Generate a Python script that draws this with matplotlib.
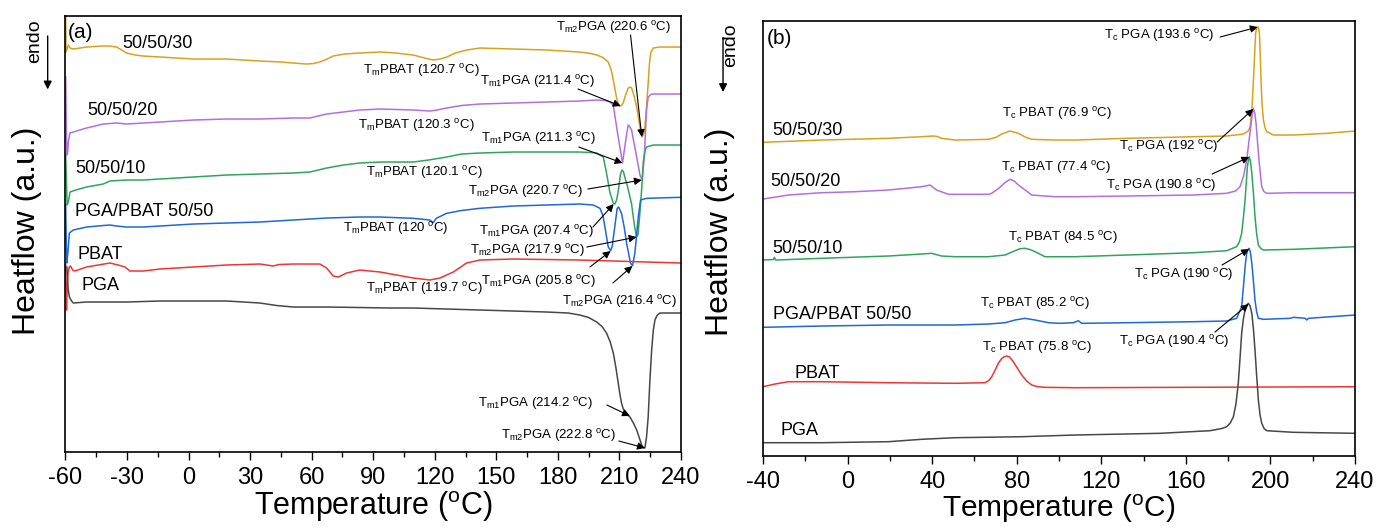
import matplotlib
matplotlib.use("Agg")
import matplotlib.pyplot as plt
from matplotlib.ticker import MultipleLocator

plt.rcParams['font.family'] = ['Liberation Sans', 'DejaVu Sans']
plt.rcParams['mathtext.fontset'] = 'custom'
plt.rcParams['mathtext.rm'] = 'Liberation Sans'
plt.rcParams['mathtext.default'] = 'regular'
plt.rcParams['axes.unicode_minus'] = False

# colours of the six samples
COLORS = {
    "50/50/30": "#D9A21B",
    "50/50/20": "#B070E0",
    "50/50/10": "#2FA55C",
    "PGA/PBAT 50/50": "#1C68DC",
    "PBAT": "#EE3535",
    "PGA": "#474747",
}

# ---- (a) heating scans: temperature (C) and heat flow (a.u., offset) ----
heat_T_30 = [-59.9, -59.7, -59.2, -58.6, -57.8, -56.2, -49.7, -42, -38.3, -35.1, -32.5, -30.2, -26, -22.1, -13.9,
             2.3, 18.5, 34.8, 45, 51, 57.5, 61, 64, 67.5, 70.5, 76, 83.5, 93.3, 101, 109.5, 115, 119.2, 122.5,
             125.8, 130, 135.5, 142, 158.2, 174.5, 190.7, 196, 199, 202, 204.5, 206, 207, 208.6, 209.5, 210.2,
             211, 211.8, 213, 214.3, 215.2, 215.9, 217, 218.4, 220, 221.1, 221.8, 222.4, 223.2, 224, 224.6,
             225.2, 226.5, 229.7, 240]
heat_hf_30 = [436, 400, 403, 407, 404, 403, 405, 406, 406, 405, 402, 399, 397, 396, 395,
              393, 393, 391, 390, 389, 388, 388.5, 390, 393, 396, 398, 399, 400, 399, 397, 394, 392, 393,
              395, 399, 402, 404, 403, 402, 400, 398.5, 397, 394.5, 390, 382, 372, 354, 348, 346,
              346.5, 349, 357, 364, 365, 364, 357, 345, 325, 315, 318, 325, 345, 369, 388,
              399, 404, 405, 405]

heat_T_20 = [-59.9, -59.6, -59.3, -58.9, -58.6, -57.8, -56.2, -49.7, -41.6, -35.1, -30.2, -22.1, -13.9, 2.3,
             18.5, 34.8, 51, 59.2, 63, 67.3, 75.4, 83.5, 93.3, 109.5, 117.6, 121, 125.8, 133, 142, 158.2,
             174.5, 190.7, 198.9, 203, 205.4, 207, 208.6, 210.2, 211.5, 212.6, 213.5, 214.3, 215.1, 215.9,
             217, 218.4, 220, 221.1, 222.1, 223.2, 224, 225.7, 240]
heat_hf_20 = [375, 330, 297, 300, 310, 319, 320, 324, 328, 329, 328, 329, 330, 332,
              333, 333, 334, 334, 336, 338, 340, 342, 343, 342, 341, 342, 344, 346.5, 348, 349,
              350, 351, 352, 351.5, 350, 347, 325, 305, 289, 305, 318, 327, 325, 322,
              310, 295, 277, 272, 295, 342, 355, 358, 358]

heat_T_10 = [-59.9, -59.5, -59.2, -58.6, -57.8, -55, -49.7, -41.6, -38.3, -30.2, -22.1, -13.9, 2.3, 18.5,
             34.8, 51, 59.2, 67.3, 75.4, 83.5, 93.3, 109.5, 117, 125.8, 133, 142, 158.2, 174.5, 190.7, 196,
             198.9, 200.5, 202.1, 203.7, 205.4, 207, 207.8, 208.6, 209.5, 210.5, 211.3, 212, 212.6, 214,
             215.9, 217.2, 218.3, 219, 219.8, 220.8, 221.6, 222.5, 223.2, 226.5, 240]
heat_hf_10 = [297, 270, 247, 250, 260, 262, 265, 268, 271, 272, 272, 273, 275, 277,
              278, 279, 280, 284, 287, 289, 290, 290, 292, 295, 298, 299, 300, 300, 300, 299.5,
              299, 297, 295, 279, 259, 249, 248, 252, 262, 278, 282, 280, 275, 265,
              248, 228, 215, 217, 235, 262, 290, 302, 305, 307, 307]

heat_T_blend = [-59.9, -59.6, -59.3, -58.8, -58.1, -56.2, -49.7, -41.6, -38.3, -35.1, -30.2, -22.1, -13.9,
                2.3, 18.5, 34.8, 51, 67.3, 83.5, 93.3, 109.5, 117.6, 119.2, 120.7, 125.8, 133, 142, 158.2,
                174.5, 190.7, 197.2, 200.5, 202, 202.9, 204.5, 205.7, 206.5, 207.3, 208.9, 209.6, 211,
                212.3, 213.5, 215.4, 216.4, 217.5, 218.5, 219.2, 220.3, 223.2, 240]
heat_hf_blend = [247, 210, 189, 200, 219, 222, 225, 226.5, 227, 226, 225, 225, 226,
                 228, 229, 230, 232, 234, 235, 235, 233.7, 232, 229.3, 233.7, 238.7, 241.5, 243.7, 246,
                 247, 248, 247, 243.7, 236, 225.3, 205.3, 201.3, 206, 218.7, 243.7, 245, 238.7,
                 225, 208.7, 188.7, 186.3, 198.7, 220, 235.3, 252, 253.7, 254.7]

heat_T_pbat = [-59.9, -59.7, -59.5, -59.2, -58.7, -58.1, -57.5, -56.5, -55.4, -49.7, -38.3, -34.3, -31, -28.6,
               -22.1, -13.9, 2.3, 18.5, 34.8, 41.3, 44, 51, 64, 67.3, 70.5, 73, 77, 83.5, 93.3, 101.4,
               109.5, 117.6, 122.5, 129, 135.5, 142, 158.2, 190.7, 207, 223.2, 240]
heat_hf_pbat = [188, 165, 142, 160, 180, 185, 186, 182, 181, 185, 189, 187, 185, 181,
                181, 183, 185, 187, 188, 186, 187.5, 188, 188, 184, 176, 175, 179, 182, 180, 177,
                174, 172, 174, 180, 189, 192, 193, 192, 191, 190, 189]

heat_T_pga = [-59.3, -58.8, -58.1, -57, -56.2, -49.7, -30.2, -13.9, 18.5, 26.7, 34.8, 42.9, 51, 67.3, 83.5,
              98, 109.5, 142, 174.5, 185, 190.7, 195, 198.9, 201.5, 203.7, 205.5, 207, 208.3, 209.4, 210.2,
              211, 211.8, 212.6, 213.8, 215.1, 216.8, 218.4, 219.7, 220.8, 221.6, 222.4, 223.2, 224, 224.8,
              225.7, 226.5, 227.3, 228.3, 229.7, 240]
heat_hf_pga = [185, 165, 155, 151, 149, 150, 150, 151, 151, 150, 149, 146.5, 145, 145, 144.5,
               144, 144, 142, 140, 139, 137, 134.5, 130, 125.5, 119, 110, 99, 84, 69, 58,
               49, 43.5, 40, 37.5, 35, 29, 22, 14, 7, 4.5, 4, 15, 35, 70,
               102, 122, 132, 136.5, 139, 139]

# ---- (b) cooling scans ----
cool_T_30 = [-40, -12.3, 19.3, 35, 40.6, 42.5, 44.5, 50.8, 66.6, 70, 72.9, 76.8, 80.8, 84, 87.1, 98.1, 107.6,
             132, 163.6, 179.3, 187.2, 189.5, 190.4, 191.2, 191.9, 192.5, 193, 193.5, 194, 194.4, 194.8,
             195.2, 195.6, 196.1, 196.7, 197.5, 198.3, 201.4, 210.9, 226.6, 240]
cool_hf_30 = [313.7, 316, 317.7, 319.3, 320, 319.5, 317.7, 316, 316.7, 318.5, 322, 325, 322.7, 319, 316.7, 316,
              316, 317.7, 319.3, 320, 322, 325, 329.3, 345, 372.7, 400, 422.7, 428, 429.3, 428, 422.7,
              400, 372.7, 350, 336, 328, 324.3, 321, 321, 322.7, 325]

cool_T_20 = [-40, -28, -12.3, 3.5, 19.3, 35, 39, 42.1, 47.7, 66.6, 68, 71.5, 74.5, 76.8, 78.8, 80.8, 84, 87.1,
             98.1, 107.6, 132, 163.6, 179.3, 183.5, 185.6, 187.3, 188.8, 189.8, 190.7, 191.3, 191.9, 192.6,
             193.2, 193.9, 194.6, 195.3, 195.9, 196.9, 198.3, 210.9, 240]
cool_hf_20 = [257, 261, 263.3, 264.3, 266, 269.3, 271, 266, 261.7, 261.7, 262.5, 267.7, 273.5, 276.7, 275,
              271, 266, 261, 259.3, 259.3, 260, 261, 262.7, 265, 269.3, 280, 296, 314, 329.3, 341, 347.7,
              343, 332.7, 314, 296, 281, 269.3, 264.5, 262.7, 263.3, 263.3]

cool_T_10 = [-40, -35.1, -34.6, -34, -12.3, 19.3, 35, 39.8, 44.5, 50.8, 66.6, 74.5, 79.2, 81.5, 83.9, 86.3,
             88.7, 93.4, 107.6, 132, 163.6, 179.3, 184, 185.3, 186.4, 187.2, 188, 188.6, 189.1, 189.6, 190,
             190.6, 191.2, 192, 192.7, 193.5, 194.3, 195.5, 196.7, 210.9, 240]
cool_hf_10 = [196, 196.5, 198.7, 196, 197.7, 200, 202, 202.7, 200, 199.3, 199.3, 201, 205.3, 207.3, 207.7,
              206.5, 204.3, 199.3, 199.3, 201, 203.3, 205.3, 209.3, 214, 222.7, 238, 256, 274, 289.3, 296,
              299.3, 294, 282.7, 262, 239.3, 222, 211, 207.5, 206, 206.7, 209.3]

cool_T_blend = [-40, -12.3, 19.3, 50.8, 66.6, 74.5, 79.2, 83.9, 88.7, 95, 100.5, 106.8, 109.2, 110.7, 132,
                163.6, 179.3, 184, 186.4, 187.5, 188.2, 188.8, 189.4, 189.9, 190.5, 191.2, 192, 192.7, 193.5,
                194.3, 196.7, 209.3, 210.9, 216.4, 217.2, 218, 240]
cool_hf_blend = [128.7, 130, 131, 131, 132, 133.3, 136, 137.7, 136, 133.3, 132.7, 133.3, 135.3, 132.7, 133.3,
                 134.3, 135, 137.7, 149.3, 176, 193, 202.7, 206.5, 207.7, 204, 192.7, 174, 156, 144,
                 137.7, 136.7, 137.7, 138.7, 137.7, 136, 137.7, 141]

cool_T_pbat = [-40, -34.3, -28, -12.3, 19.3, 50.8, 65, 66.8, 68.2, 69.8, 71.3, 72.8, 74, 75.3, 76.6, 78.4,
               80.4, 82.4, 84.7, 87.1, 90, 93.4, 107.6, 240]
cool_hf_pbat = [69.3, 72, 74.3, 74.3, 73.3, 72.7, 73.3, 75.5, 79.3, 86, 92.7, 97.3, 99.3, 100, 99, 94.3,
                87.5, 81, 75, 71, 69.3, 68.7, 68.3, 69.3]

cool_T_pga = [-40, -12.3, 19.3, 35, 50.8, 82.4, 107.6, 147.8, 171.4, 177, 179.3, 181, 182.5, 183.7, 184.8,
              185.6, 186.4, 187.2, 188, 188.8, 189.6, 190.4, 191.2, 192, 192.7, 193.5, 194.3, 195.1, 195.9,
              197, 198.3, 210.9, 240]
cool_hf_pga = [13.3, 13.3, 14.3, 16.7, 18.3, 19.3, 21, 22.7, 25.3, 27.5, 29.3, 33, 39.3, 52, 72.7,
               97, 122.7, 137, 146, 151, 152.7, 150, 142.7, 126, 106, 80, 56, 41, 32.7,
               27.5, 25.3, 23.7, 22.7]

heating = {
    "50/50/30": (heat_T_30, heat_hf_30),
    "50/50/20": (heat_T_20, heat_hf_20),
    "50/50/10": (heat_T_10, heat_hf_10),
    "PGA/PBAT 50/50": (heat_T_blend, heat_hf_blend),
    "PBAT": (heat_T_pbat, heat_hf_pbat),
    "PGA": (heat_T_pga, heat_hf_pga),
}
cooling = {
    "50/50/30": (cool_T_30, cool_hf_30),
    "50/50/20": (cool_T_20, cool_hf_20),
    "50/50/10": (cool_T_10, cool_hf_10),
    "PGA/PBAT 50/50": (cool_T_blend, cool_hf_blend),
    "PBAT": (cool_T_pbat, cool_hf_pbat),
    "PGA": (cool_T_pga, cool_hf_pga),
}

# sample name positions (temperature, heat flow)
heat_name_pos = {"50/50/30": (-32.5, 409), "50/50/20": (-49.5, 342), "50/50/10": (-55.4, 284),
                 "PGA/PBAT 50/50": (-55.4, 241), "PBAT": (-53.9, 198), "PGA": (-52, 167)}
cool_name_pos = {"50/50/30": (-35.7, 326), "50/50/20": (-36.7, 275), "50/50/10": (-35.7, 208),
                 "PGA/PBAT 50/50": (-35.3, 142), "PBAT": (-24.9, 83), "PGA": (-31.5, 26)}

# peak labels: text, text position, arrow tail, arrow tip (None = no arrow)
heat_labels = [
    (r'T$_{m2}$PGA (220.6 $^{o}$C)', (207.3, 425), (215.4, 417), (220.9, 315)),
    (r'T$_{m}$PBAT (120.7 $^{o}$C)', (113.2, 382), None, None),
    (r'T$_{m1}$PGA (211.4 $^{o}$C)', (170, 371), (189.8, 363), (210.6, 346)),
    (r'T$_{m}$PBAT (120.3 $^{o}$C)', (110.8, 327), None, None),
    (r'T$_{m1}$PGA (211.3 $^{o}$C)', (170.7, 314), (190.2, 305), (211.5, 289)),
    (r'T$_{m}$PBAT (120.1 $^{o}$C)', (114.7, 280), None, None),
    (r'T$_{m2}$PGA (220.7 $^{o}$C)', (164.2, 261), (194.6, 263), (220.9, 272)),
    (r'T$_{m}$PBAT (120 $^{o}$C)', (100.8, 224), None, None),
    (r'T$_{m1}$PGA (207.4 $^{o}$C)', (169.5, 221), (197.1, 225), (207.2, 248)),
    (r'T$_{m2}$PGA (217.9 $^{o}$C)', (165.4, 202), (194.1, 205), (218.3, 215)),
    (r'T$_{m}$PBAT (119.7 $^{o}$C)', (114.7, 164), None, None),
    (r'T$_{m1}$PGA (205.8 $^{o}$C)', (170.7, 171), (195.6, 185), (205.7, 201)),
    (r'T$_{m2}$PGA (216.4 $^{o}$C)', (210.2, 151), (206.8, 169), (216.3, 186)),
    (r'T$_{m1}$PGA (214.2 $^{o}$C)', (169.3, 49), (203.9, 47), (215.1, 36)),
    (r'T$_{m2}$PGA (222.8 $^{o}$C)', (180.5, 17), (209.7, 11), (222.4, 4)),
]
cool_labels = [
    (r'T$_{c}$ PGA (193.6 $^{o}$C)', (147.3, 421), (176.2, 419), (194, 429)),
    (r'T$_{c}$ PBAT (76.9 $^{o}$C)', (99.1, 343), None, None),
    (r'T$_{c}$ PGA (192 $^{o}$C)', (151.8, 310), (174.8, 314), (191.9, 347)),
    (r'T$_{c}$ PBAT (77.4 $^{o}$C)', (98.4, 289), None, None),
    (r'T$_{c}$ PGA (190.8 $^{o}$C)', (148.3, 271), (172.4, 282), (190, 299)),
    (r'T$_{c}$ PBAT (84.5 $^{o}$C)', (101.9, 219), None, None),
    (r'T$_{c}$ PGA (190 $^{o}$C)', (158.9, 182), (177.1, 191), (189.9, 207)),
    (r'T$_{c}$ PBAT (85.2 $^{o}$C)', (88.4, 153), None, None),
    (r'T$_{c}$ PBAT (75.8 $^{o}$C)', (89.4, 109), None, None),
    (r'T$_{c}$ PGA (190.4 $^{o}$C)', (154.4, 115), (173.8, 124), (189.7, 152)),
]


def draw_panel(ax, curves, names, labels, xlim, ylim, major, minor, tag, tag_pos, xlabelpad, xlabelsize):
    for name, (T, hf) in curves.items():
        ax.plot(T, hf, color=COLORS[name], lw=1.1)
        ax.text(names[name][0], names[name][1], name, fontsize=13, ha='left', va='center')
    for text, pos, tail, tip in labels:
        ax.text(pos[0], pos[1], text, fontsize=9.5, ha='center', va='center')
        if tail is not None:
            ax.annotate('', xy=tip, xytext=tail,
                        arrowprops=dict(arrowstyle='-|>', color='k', lw=0.8,
                                        mutation_scale=11, shrinkA=0, shrinkB=0))
    ax.text(tag_pos[0], tag_pos[1], tag, fontsize=15, ha='left', va='center')
    ax.set_xlim(xlim)
    ax.set_ylim(ylim)
    ax.xaxis.set_major_locator(MultipleLocator(major))
    ax.xaxis.set_minor_locator(MultipleLocator(minor))
    ax.tick_params(axis='x', which='major', direction='out', length=6, width=1, labelsize=17, pad=5)
    ax.tick_params(axis='x', which='minor', direction='out', length=3.5, width=1)
    ax.set_yticks([])
    ax.set_xlabel('Temperature ($^{o}$C)', fontsize=xlabelsize, labelpad=xlabelpad)
    for sp in ax.spines.values():
        sp.set_linewidth(1.2)


fig = plt.figure(figsize=(13.78, 5.27), dpi=100)
ax1 = fig.add_axes([0.0475, 0.1423, 0.4467, 0.8273])
ax2 = fig.add_axes([0.5537, 0.1347, 0.4296, 0.8254])

draw_panel(ax1, heating, heat_name_pos, heat_labels, (-60, 240), (0, 436), 30, 15, '(a)', (-58.8, 420), 0, 22)
draw_panel(ax2, cooling, cool_name_pos, cool_labels, (-40, 240), (0, 435), 40, 20, '(b)', (-38.1, 418), -0.5, 21.5)

# y labels and "endo" arrows
fig.text(0.0196, 0.562, 'Heatflow (a.u.)', rotation=90, fontsize=23, ha='center', va='center')
fig.text(0.5225, 0.560, 'Heatflow (a.u.)', rotation=90, fontsize=23, ha='center', va='center')
fig.text(0.0254, 0.922, 'endo', rotation=90, fontsize=14, ha='center', va='center')
fig.text(0.5305, 0.915, 'endo', rotation=90, fontsize=14, ha='center', va='center')
for x0, y0, y1 in [(0.0346, 0.937, 0.825), (0.5247, 0.934, 0.820)]:
    fig.add_artist(matplotlib.patches.FancyArrowPatch((x0, y0), (x0, y1), transform=fig.transFigure,
                                                      arrowstyle='-|>', mutation_scale=12, lw=1, color='k'))

fig.savefig('out.png', dpi=100)
